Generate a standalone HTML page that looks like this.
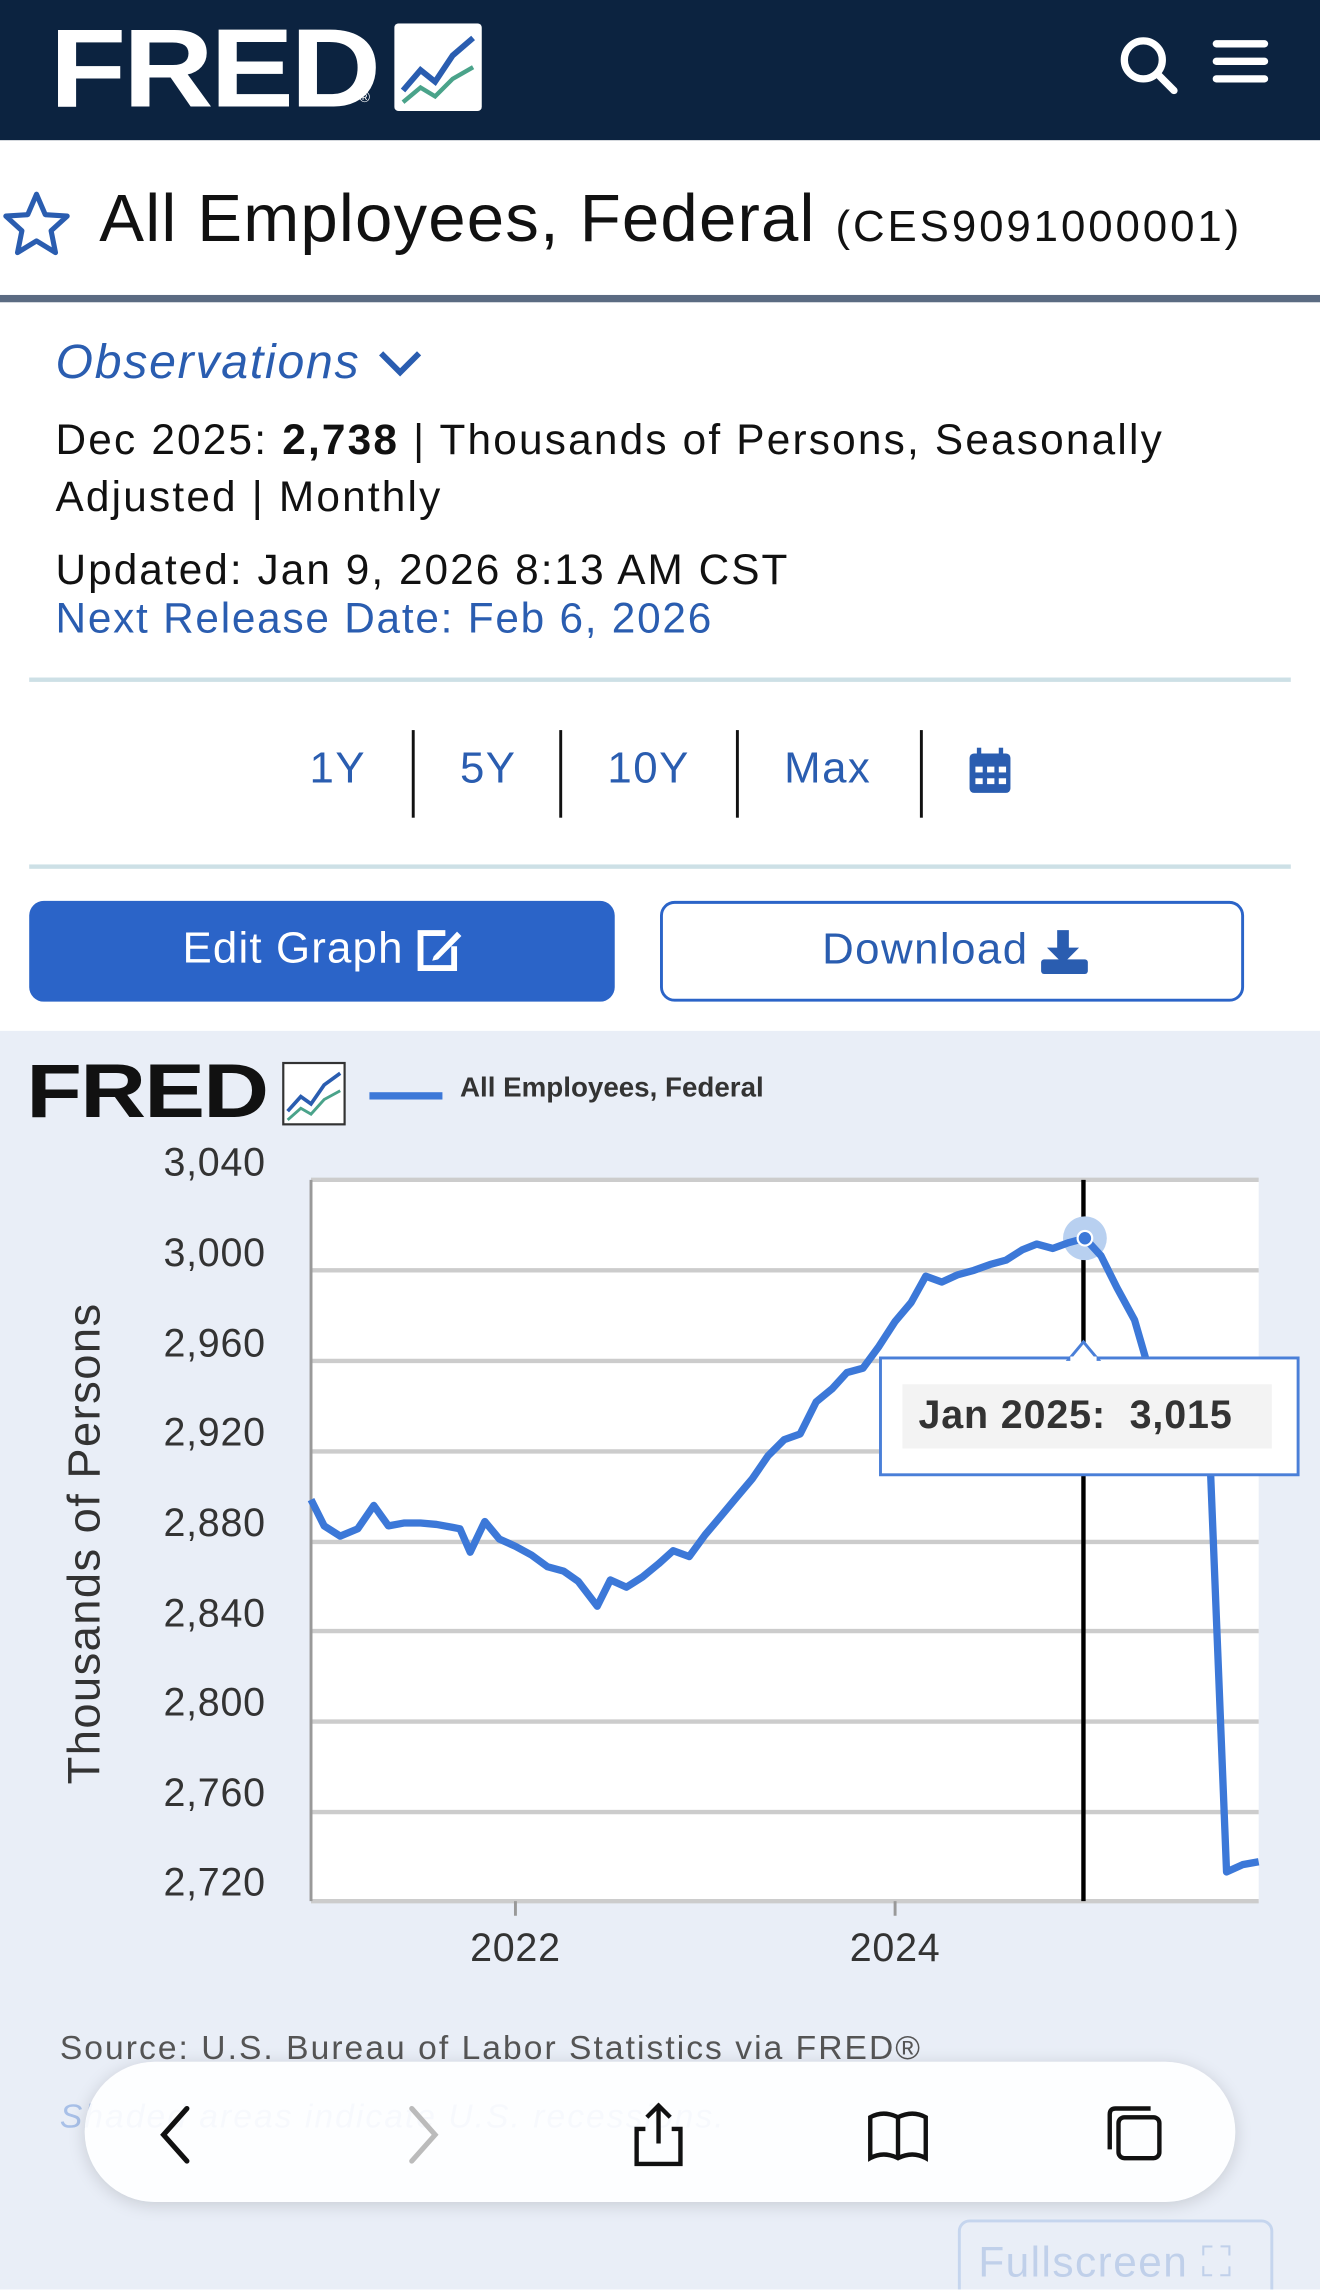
<!DOCTYPE html>
<html><head><meta charset="utf-8"><style>
html,body{margin:0;padding:0;width:1320px;height:2289px;overflow:hidden;background:#fff}
#w{position:absolute;left:0;top:0;width:904px;height:1568px;transform:scale(1.46018);transform-origin:0 0;font-family:"Liberation Sans",sans-serif;overflow:hidden}
.a{position:absolute;white-space:nowrap}
.blue{color:#2a5db0}
</style></head><body><div id="w">
<div class="a" style="left:0;top:0;width:904px;height:96px;background:#0c2340"></div>
<div class="a" style="left:34px;top:4px;font-size:76px;font-weight:bold;color:#fff;letter-spacing:-2px;transform:scaleX(1.13);transform-origin:0 0">FRED</div>
<div class="a" style="left:246px;top:62px;font-size:10px;color:#fff">®</div>
<svg class="a" style="left:270px;top:16px" width="60" height="60"><rect x="0" y="0" width="60" height="60" rx="3" fill="#fff"/><polyline points="6,46 18,32 28,40 40,22 54,10" fill="none" stroke="#2a5db0" stroke-width="4"/><polyline points="6,54 18,44 28,50 40,38 54,30" fill="none" stroke="#4aa38a" stroke-width="3"/></svg>
<svg class="a" style="left:764px;top:22px" width="44" height="44"><circle cx="19" cy="19" r="13" fill="none" stroke="#fff" stroke-width="5"/><line x1="29" y1="29" x2="40" y2="40" stroke="#fff" stroke-width="5" stroke-linecap="round"/></svg>
<svg class="a" style="left:830px;top:26px" width="40" height="34"><g stroke="#fff" stroke-width="5" stroke-linecap="round"><line x1="3" y1="4" x2="36" y2="4"/><line x1="3" y1="16" x2="36" y2="16"/><line x1="3" y1="28" x2="36" y2="28"/></g></svg>

<svg class="a" style="left:2px;top:130px" width="48" height="46"><polygon points="23,3 29,17 44,18 33,28 36,43 23,35 10,43 13,28 2,18 17,17" fill="none" stroke="#2a5db0" stroke-width="3.5" stroke-linejoin="round"/></svg>
<div class="a" style="left:68px;top:122px;font-size:46px;color:#111;letter-spacing:0.8px">All Employees, Federal <span style="font-size:30px;letter-spacing:2px">(CES9091000001)</span></div>
<div class="a" style="left:0;top:202px;width:904px;height:5px;background:#5b6b82"></div>

<div class="a blue" style="left:38px;top:229px;font-size:33px;font-style:italic;letter-spacing:1.2px">Observations</div>
<svg class="a" style="left:258px;top:238px" width="34" height="22"><polyline points="3,4 16,17 29,4" fill="none" stroke="#2a5db0" stroke-width="4"/></svg>
<div class="a" style="left:38px;top:283px;font-size:29px;color:#111;line-height:39px;letter-spacing:1.5px">Dec 2025: <b>2,738</b> | Thousands of Persons, Seasonally<br>Adjusted | Monthly</div>
<div class="a" style="left:38px;top:375px;font-size:29px;color:#111;letter-spacing:1.4px">Updated: Jan 9, 2026 8:13 AM CST</div>
<div class="a blue" style="left:38px;top:408px;font-size:29px;letter-spacing:1.2px">Next Release Date: Feb 6, 2026</div>
<div class="a" style="left:20px;top:464px;width:864px;height:3px;background:#cde0e6"></div>

<div class="a blue" style="left:212px;top:510px;font-size:30px;letter-spacing:1px">1Y</div>
<div class="a blue" style="left:315px;top:510px;font-size:30px;letter-spacing:1px">5Y</div>
<div class="a blue" style="left:416px;top:510px;font-size:30px;letter-spacing:1px">10Y</div>
<div class="a blue" style="left:537px;top:510px;font-size:30px;letter-spacing:1px">Max</div>
<div class="a" style="left:282px;top:500px;width:2px;height:60px;background:#111"></div>
<div class="a" style="left:383px;top:500px;width:2px;height:60px;background:#111"></div>
<div class="a" style="left:504px;top:500px;width:2px;height:60px;background:#111"></div>
<div class="a" style="left:630px;top:500px;width:2px;height:60px;background:#111"></div>
<svg class="a" style="left:663px;top:512px" width="30" height="32"><rect x="1" y="4" width="28" height="27" rx="3" fill="#2a5db0"/><rect x="6" y="0" width="3" height="7" fill="#2a5db0"/><rect x="21" y="0" width="3" height="7" fill="#2a5db0"/><g fill="#fff"><rect x="5" y="13" width="5" height="4"/><rect x="13" y="13" width="5" height="4"/><rect x="21" y="13" width="5" height="4"/><rect x="5" y="21" width="5" height="4"/><rect x="13" y="21" width="5" height="4"/><rect x="21" y="21" width="5" height="4"/></g></svg>
<div class="a" style="left:20px;top:592px;width:864px;height:3px;background:#cde0e6"></div>

<div class="a" style="left:20px;top:617px;width:401px;height:69px;background:#2b64c8;border-radius:10px"></div>
<div class="a" style="left:125px;top:633px;font-size:30px;color:#fff;letter-spacing:0.8px">Edit Graph</div>
<svg class="a" style="left:283px;top:633px" width="34" height="34"><path d="M22 6 H5 V30 H28 V15" fill="none" stroke="#fff" stroke-width="4"/><path d="M14 22 L30 5 L33 8 L17 24 L13 25Z" fill="#fff"/></svg>
<div class="a" style="left:452px;top:617px;width:396px;height:65px;border:2px solid #2b64c8;border-radius:10px"></div>
<div class="a blue" style="left:563px;top:634px;font-size:30px;letter-spacing:1px">Download</div>
<svg class="a" style="left:712px;top:635px" width="34" height="34"><rect x="12" y="2" width="8" height="14" fill="#2a5db0"/><polygon points="5,14 27,14 16,25" fill="#2a5db0"/><rect x="1" y="22" width="32" height="10" rx="2" fill="#2a5db0"/></svg>

<div class="a" style="left:0;top:706px;width:904px;height:862px;background:#e9eef7"></div>
<div class="a" style="left:18px;top:718px;font-size:52px;font-weight:bold;color:#111;letter-spacing:-1px;transform:scaleX(1.2);transform-origin:0 0">FRED</div>
<svg class="a" style="left:193px;top:727px" width="44" height="44"><rect x="1" y="1" width="42" height="42" fill="#fff" stroke="#333" stroke-width="1.5"/><polyline points="4,34 13,24 20,29 29,16 40,8" fill="none" stroke="#2a5db0" stroke-width="2.5"/><polyline points="4,40 13,32 20,36 29,26 40,20" fill="none" stroke="#4aa38a" stroke-width="2"/></svg>
<div class="a" style="left:253px;top:748px;width:50px;height:5px;background:#3c78d8"></div>
<div class="a" style="left:315px;top:735px;font-size:19px;font-weight:bold;color:#333">All Employees, Federal</div>

<svg class="a" style="left:0;top:780px" width="904" height="580">
<rect x="213" y="28" width="649" height="494" fill="#fff"/>
<g stroke="#ccc" stroke-width="3"><line x1="213" y1="28" x2="862" y2="28"/><line x1="213" y1="90" x2="862" y2="90"/><line x1="213" y1="152" x2="862" y2="152"/><line x1="213" y1="214" x2="862" y2="214"/><line x1="213" y1="276" x2="862" y2="276"/><line x1="213" y1="337" x2="862" y2="337"/><line x1="213" y1="399" x2="862" y2="399"/><line x1="213" y1="461" x2="862" y2="461"/><line x1="213" y1="522" x2="862" y2="522"/></g>
<line x1="213" y1="28" x2="213" y2="522" stroke="#999" stroke-width="2"/>
<g stroke="#999" stroke-width="2"><line x1="353" y1="522" x2="353" y2="532"/><line x1="613" y1="522" x2="613" y2="532"/></g>
<g font-size="27" fill="#333" text-anchor="end" font-family="Liberation Sans" letter-spacing="0.5"><text x="182" y="25">3,040</text><text x="182" y="87">3,000</text><text x="182" y="149">2,960</text><text x="182" y="210">2,920</text><text x="182" y="272">2,880</text><text x="182" y="334">2,840</text><text x="182" y="395">2,800</text><text x="182" y="457">2,760</text><text x="182" y="518">2,720</text></g>
<g font-size="27" fill="#333" text-anchor="middle" font-family="Liberation Sans" letter-spacing="0.5"><text x="353" y="563">2022</text><text x="613" y="563">2024</text></g>
<text transform="translate(68,277) rotate(-90)" font-size="31" fill="#333" text-anchor="middle" font-family="Liberation Sans" letter-spacing="1">Thousands of Persons</text>
<line x1="742" y1="28" x2="742" y2="522" stroke="#000" stroke-width="3"/>
<circle cx="743" cy="68" r="15" fill="#b8d0f0"/>
<polyline fill="none" stroke="#3c78d8" stroke-width="5" stroke-linejoin="round" points="213,247 222,265 233,272 245,267 256,251 266,265 277,263 288,263 299,264 310,266 315,267 322,283 332,262 342,274 353,279 364,285 375,293 386,296 396,303 409,320 418,302 429,307 440,300 451,291 461,282 472,286 483,271 494,258 504,246 515,233 526,217 537,206 548,202 559,180 570,171 580,160 591,157 602,142 613,125 624,112 634,94 645,98 656,93 667,90 678,86 689,83 700,76 710,72 721,75 732,71 743,68 754,80 765,102 777,124 788,162 799,185 810,205 821,220 829,227 840,502 851,497 862,495"/>
<circle cx="743" cy="68" r="5" fill="#3c78d8" stroke="#fff" stroke-width="1.5"/>
<rect x="603" y="150" width="286" height="80" fill="#fff" stroke="#4a7fd8" stroke-width="2"/>
<polygon points="732,151 742,139 752,151" fill="#fff" stroke="#4a7fd8" stroke-width="2"/>
<rect x="733" y="149" width="18" height="4" fill="#fff"/>
<rect x="618" y="168" width="253" height="44" fill="#f3f3f3"/>
<text x="629" y="198" font-size="27" font-weight="bold" fill="#333" font-family="Liberation Sans" letter-spacing="0.6" xml:space="preserve">Jan 2025:  3,015</text>
</svg>

<div class="a" style="left:41px;top:1389px;font-size:23px;color:#555;letter-spacing:1.4px">Source: U.S. Bureau of Labor Statistics via FRED®</div>
<div class="a" style="left:41px;top:1436px;font-size:23px;color:#a8c0e8;font-style:italic;letter-spacing:1.4px">Shaded areas indicate U.S. recessions.</div>
<div class="a" style="left:58px;top:1412px;width:788px;height:96px;border-radius:48px;background:rgba(255,255,255,0.9);box-shadow:0 2px 12px rgba(0,0,0,0.15)"></div>
<svg class="a" style="left:100px;top:1440px" width="700" height="44">
<polyline points="28,4 12,22 28,40" fill="none" stroke="#111" stroke-width="3.5" stroke-linecap="round"/>
<polyline points="182,4 198,22 182,40" fill="none" stroke="#bbb" stroke-width="3.5" stroke-linecap="round"/>
<g fill="none" stroke="#111" stroke-width="3"><path d="M342 18 H336 V42 H366 V18 H360"/><line x1="351" y1="2" x2="351" y2="28"/><polyline points="343,10 351,2 359,10"/>
<path d="M496 10 Q505 5 515 10 Q525 5 534 10 V38 Q525 33 515 38 Q505 33 496 38Z"/><line x1="515" y1="10" x2="515" y2="38"/>
<rect x="666" y="10" width="28" height="28" rx="4"/><path d="M660 32 V8 Q660 4 664 4 H688"/></g>
</svg>
<div class="a" style="left:656px;top:1520px;width:212px;height:60px;border:2px solid #c5d5ee;border-radius:8px"></div>
<div class="a" style="left:670px;top:1534px;font-size:29px;color:#c0d0ea;letter-spacing:1px">Fullscreen ⛶</div>
</div></body></html>
